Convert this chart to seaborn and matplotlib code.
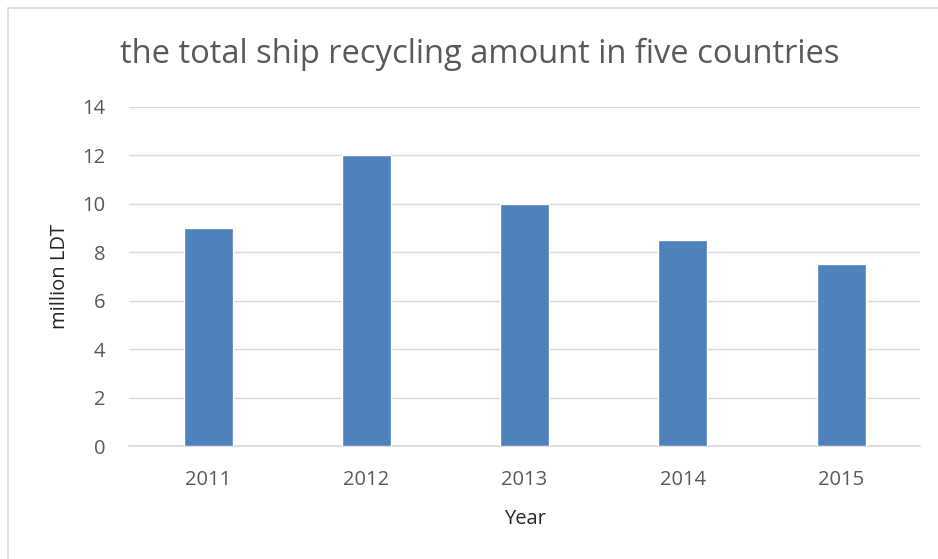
import matplotlib
matplotlib.use('Agg')
import matplotlib.pyplot as plt
import seaborn as sns
import pandas as pd
from matplotlib.patches import Rectangle

years = ['2011', '2012', '2013', '2014', '2015']
amount = [9, 12, 10, 8.5, 7.5]
yticks = [0, 2, 4, 6, 8, 10, 12, 14]

df = pd.DataFrame({'Year': years, 'amount': amount})

sns.set_style('white')
plt.rcParams['font.family'] = ['Open Sans', 'DejaVu Sans']

fig = plt.figure(figsize=(9.38, 5.59), dpi=100)
ax = fig.add_axes([0.1375, 0.2021, 0.8435, 0.6065])

sns.barplot(data=df, x='Year', y='amount', color='#4f81bd', width=0.31,
            saturation=1, ax=ax, zorder=3)

grey = '#595959'
ax.set_ylim(0, 14)
ax.set_xlim(-0.5, 4.5)
ax.set_yticks(yticks)
ax.yaxis.grid(True, color='#d9d9d9', linewidth=1, zorder=0)
for s in ['top', 'right', 'left']:
    ax.spines[s].set_visible(False)
ax.spines['bottom'].set_color('#d9d9d9')
ax.spines['bottom'].set_linewidth(1.2)
ax.tick_params(axis='both', length=0, labelsize=14.5, colors=grey)
ax.tick_params(axis='x', pad=17)
ax.tick_params(axis='y', pad=17)
ax.set_xlabel('Year', fontsize=14.5, color='#262626', labelpad=14)
ax.set_ylabel('million LDT', fontsize=14.5, color='#262626')
ax.yaxis.set_label_coords(-0.074, 0.5)

fig.text(0.511, 0.902, 'the total ship recycling amount in five countries',
         ha='center', va='center', fontsize=23.5, color=grey)

# chart frame
fig.patches.append(Rectangle((8 / 938, -0.1), 1.2, 0.1 + 551 / 559,
                             transform=fig.transFigure, fill=False,
                             edgecolor='#d9d9d9', linewidth=1.2))

fig.savefig('out.png', dpi=100)
